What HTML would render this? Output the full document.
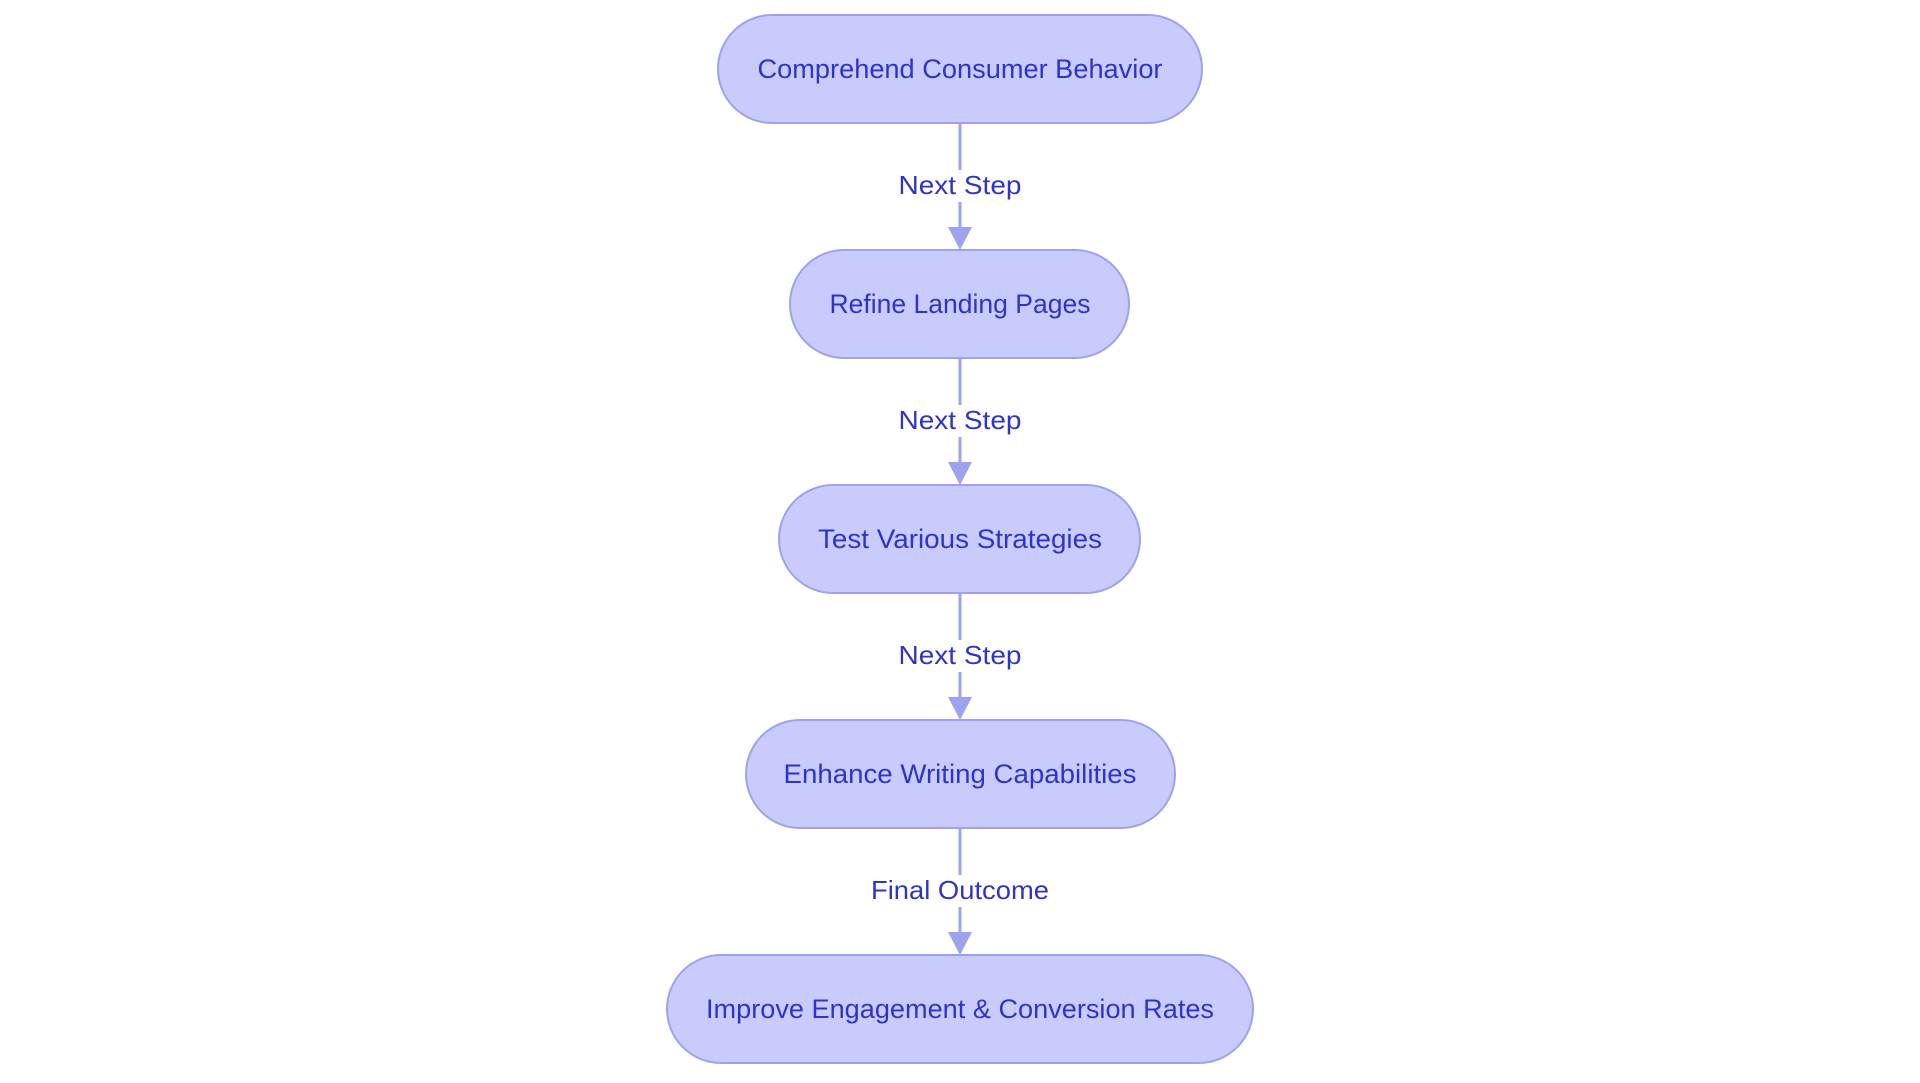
<!DOCTYPE html>
<html><head><meta charset="utf-8"><style>
html,body{margin:0;padding:0;background:#fff;width:1920px;height:1083px;overflow:hidden}
</style></head><body>
<svg width="1920" height="1083" viewBox="0 0 1920 1083" xmlns="http://www.w3.org/2000/svg" font-family="Liberation Sans, sans-serif">
<g stroke="#9da2ee" stroke-width="3" fill="none">
<line x1="960" y1="123" x2="960" y2="230"/>
<line x1="960" y1="358" x2="960" y2="465"/>
<line x1="960" y1="593" x2="960" y2="700"/>
<line x1="960" y1="828" x2="960" y2="935"/>
</g>
<g fill="#9da2ee">
<polygon points="948,227 972,227 960,250"/>
<polygon points="948,462 972,462 960,485"/>
<polygon points="948,697 972,697 960,720"/>
<polygon points="948,932 972,932 960,955"/>
</g>
<g fill="#fff">
<rect x="896" y="170" width="128" height="32"/>
<rect x="896" y="405" width="128" height="32"/>
<rect x="896" y="640" width="128" height="32"/>
<rect x="869" y="875" width="182" height="32"/>
</g>
<g fill="#2e33cc" font-size="26" text-anchor="middle">
<text x="960" y="194" textLength="123" lengthAdjust="spacingAndGlyphs">Next Step</text>
<text x="960" y="429" textLength="123" lengthAdjust="spacingAndGlyphs">Next Step</text>
<text x="960" y="664" textLength="123" lengthAdjust="spacingAndGlyphs">Next Step</text>
<text x="960" y="899" textLength="178" lengthAdjust="spacingAndGlyphs">Final Outcome</text>
</g>
<g fill="#c9cbfd" stroke="#9da2ee" stroke-width="2">
<rect x="718" y="15" width="484" height="108" rx="54"/>
<rect x="790" y="250" width="339" height="108" rx="54"/>
<rect x="779" y="485" width="361" height="108" rx="54"/>
<rect x="746" y="720" width="429" height="108" rx="54"/>
<rect x="667" y="955" width="586" height="108" rx="54"/>
</g>
<g fill="#2e33cc" font-size="27" text-anchor="middle">
<text x="960" y="78" textLength="405" lengthAdjust="spacingAndGlyphs">Comprehend Consumer Behavior</text>
<text x="960" y="313" textLength="261" lengthAdjust="spacingAndGlyphs">Refine Landing Pages</text>
<text x="960" y="548" textLength="284" lengthAdjust="spacingAndGlyphs">Test Various Strategies</text>
<text x="960" y="783" textLength="353" lengthAdjust="spacingAndGlyphs">Enhance Writing Capabilities</text>
<text x="960" y="1018" textLength="508" lengthAdjust="spacingAndGlyphs">Improve Engagement &amp; Conversion Rates</text>
</g>
</svg>
</body></html>
